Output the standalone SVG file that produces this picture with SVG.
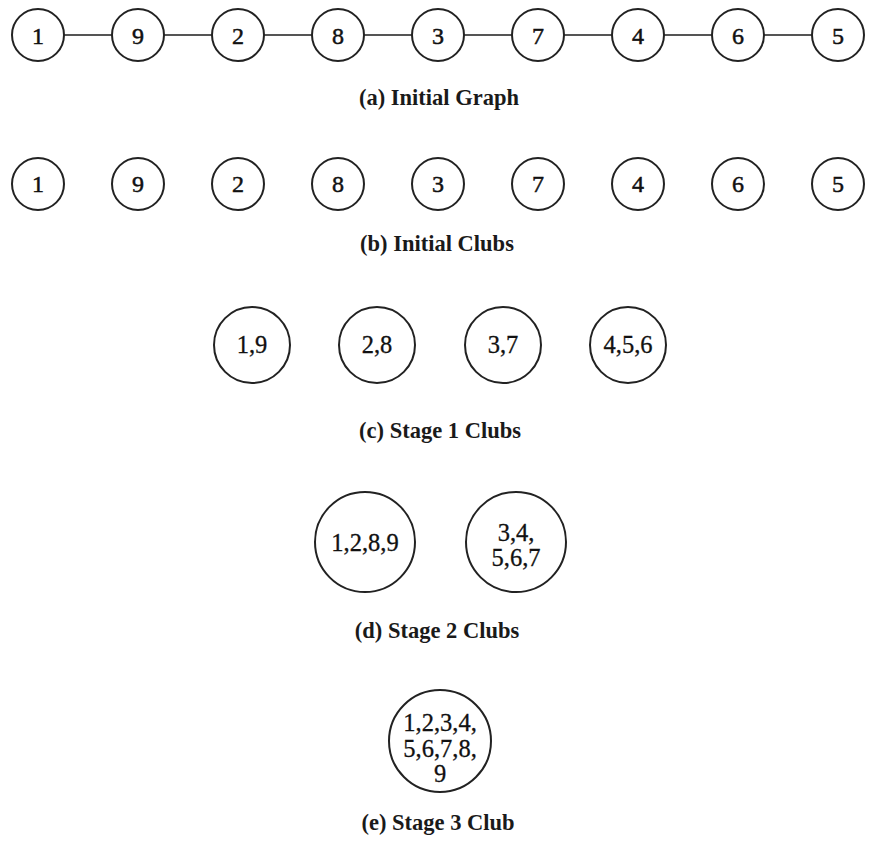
<svg xmlns="http://www.w3.org/2000/svg" width="874" height="846" viewBox="0 0 874 846">
<style>
.n{fill:#fff;stroke:#222;stroke-width:2}
.t{font-family:"Liberation Serif","Times New Roman",serif;font-size:24px;fill:#111;stroke:#111;stroke-width:0.5;text-anchor:middle}
.s{font-family:"Liberation Serif","Times New Roman",serif;font-size:24.5px;fill:#111;stroke:#111;stroke-width:0.3;text-anchor:middle}
.c{font-family:"Liberation Serif","Times New Roman",serif;font-size:22.5px;font-weight:bold;fill:#1a1a1a;text-anchor:middle}
.e{stroke:#555;stroke-width:1.8;fill:none}
</style>
<rect width="874" height="846" fill="#fff"/>
<g id="connectors">
<line class="e" x1="64" y1="35" x2="112" y2="35"/>
<line class="e" x1="164" y1="35" x2="212" y2="35"/>
<line class="e" x1="264" y1="35" x2="312" y2="35"/>
<line class="e" x1="364" y1="35" x2="412" y2="35"/>
<line class="e" x1="464" y1="35" x2="512" y2="35"/>
<line class="e" x1="564" y1="35" x2="612" y2="35"/>
<line class="e" x1="664" y1="35" x2="712" y2="35"/>
<line class="e" x1="764" y1="35" x2="812" y2="35"/>
</g>
<g id="a1"><circle class="n" cx="38" cy="35" r="26"/><text class="t" x="38" y="44">1</text></g>
<g id="a9"><circle class="n" cx="138" cy="35" r="26"/><text class="t" x="138" y="44">9</text></g>
<g id="a2"><circle class="n" cx="238" cy="35" r="26"/><text class="t" x="238" y="44">2</text></g>
<g id="a8"><circle class="n" cx="338" cy="35" r="26"/><text class="t" x="338" y="44">8</text></g>
<g id="a3"><circle class="n" cx="438" cy="35" r="26"/><text class="t" x="438" y="44">3</text></g>
<g id="a7"><circle class="n" cx="538" cy="35" r="26"/><text class="t" x="538" y="44">7</text></g>
<g id="a4"><circle class="n" cx="638" cy="35" r="26"/><text class="t" x="638" y="44">4</text></g>
<g id="a6"><circle class="n" cx="738" cy="35" r="26"/><text class="t" x="738" y="44">6</text></g>
<g id="a5"><circle class="n" cx="838" cy="35" r="26"/><text class="t" x="838" y="44">5</text></g>
<text class="c" x="439" y="105">(a) Initial Graph</text>

<g id="b1"><circle class="n" cx="38" cy="184" r="26"/><text class="t" x="38" y="192">1</text></g>
<g id="b9"><circle class="n" cx="138" cy="184" r="26"/><text class="t" x="138" y="192">9</text></g>
<g id="b2"><circle class="n" cx="238" cy="184" r="26"/><text class="t" x="238" y="192">2</text></g>
<g id="b8"><circle class="n" cx="338" cy="184" r="26"/><text class="t" x="338" y="192">8</text></g>
<g id="b3"><circle class="n" cx="438" cy="184" r="26"/><text class="t" x="438" y="192">3</text></g>
<g id="b7"><circle class="n" cx="538" cy="184" r="26"/><text class="t" x="538" y="192">7</text></g>
<g id="b4"><circle class="n" cx="638" cy="184" r="26"/><text class="t" x="638" y="192">4</text></g>
<g id="b6"><circle class="n" cx="738" cy="184" r="26"/><text class="t" x="738" y="192">6</text></g>
<g id="b5"><circle class="n" cx="838" cy="184" r="26"/><text class="t" x="838" y="192">5</text></g>
<text class="c" x="437" y="251">(b) Initial Clubs</text>

<g id="c19"><circle class="n" cx="252" cy="345" r="38"/><text class="s" x="252" y="353">1,9</text></g>
<g id="c28"><circle class="n" cx="377" cy="345" r="38"/><text class="s" x="377" y="353">2,8</text></g>
<g id="c37"><circle class="n" cx="503" cy="345" r="38"/><text class="s" x="503" y="353">3,7</text></g>
<g id="c456"><circle class="n" cx="628" cy="345" r="38"/><text class="s" x="628" y="353">4,5,6</text></g>
<text class="c" x="440" y="438">(c) Stage 1 Clubs</text>

<g id="d1289"><circle class="n" cx="365" cy="542" r="50"/><text class="s" x="365" y="551">1,2,8,9</text></g>
<g id="d34567"><circle class="n" cx="516" cy="542" r="50"/><text class="s" x="516" y="541">3,4,</text><text class="s" x="516" y="566">5,6,7</text></g>
<text class="c" x="437" y="638">(d) Stage 2 Clubs</text>

<g id="e_all"><circle class="n" cx="440" cy="741" r="51"/><text class="s" x="440" y="731">1,2,3,4,</text><text class="s" x="440" y="757">5,6,7,8,</text><text class="s" x="440" y="782">9</text></g>
<text class="c" x="438" y="830">(e) Stage 3 Club</text>
</svg>
